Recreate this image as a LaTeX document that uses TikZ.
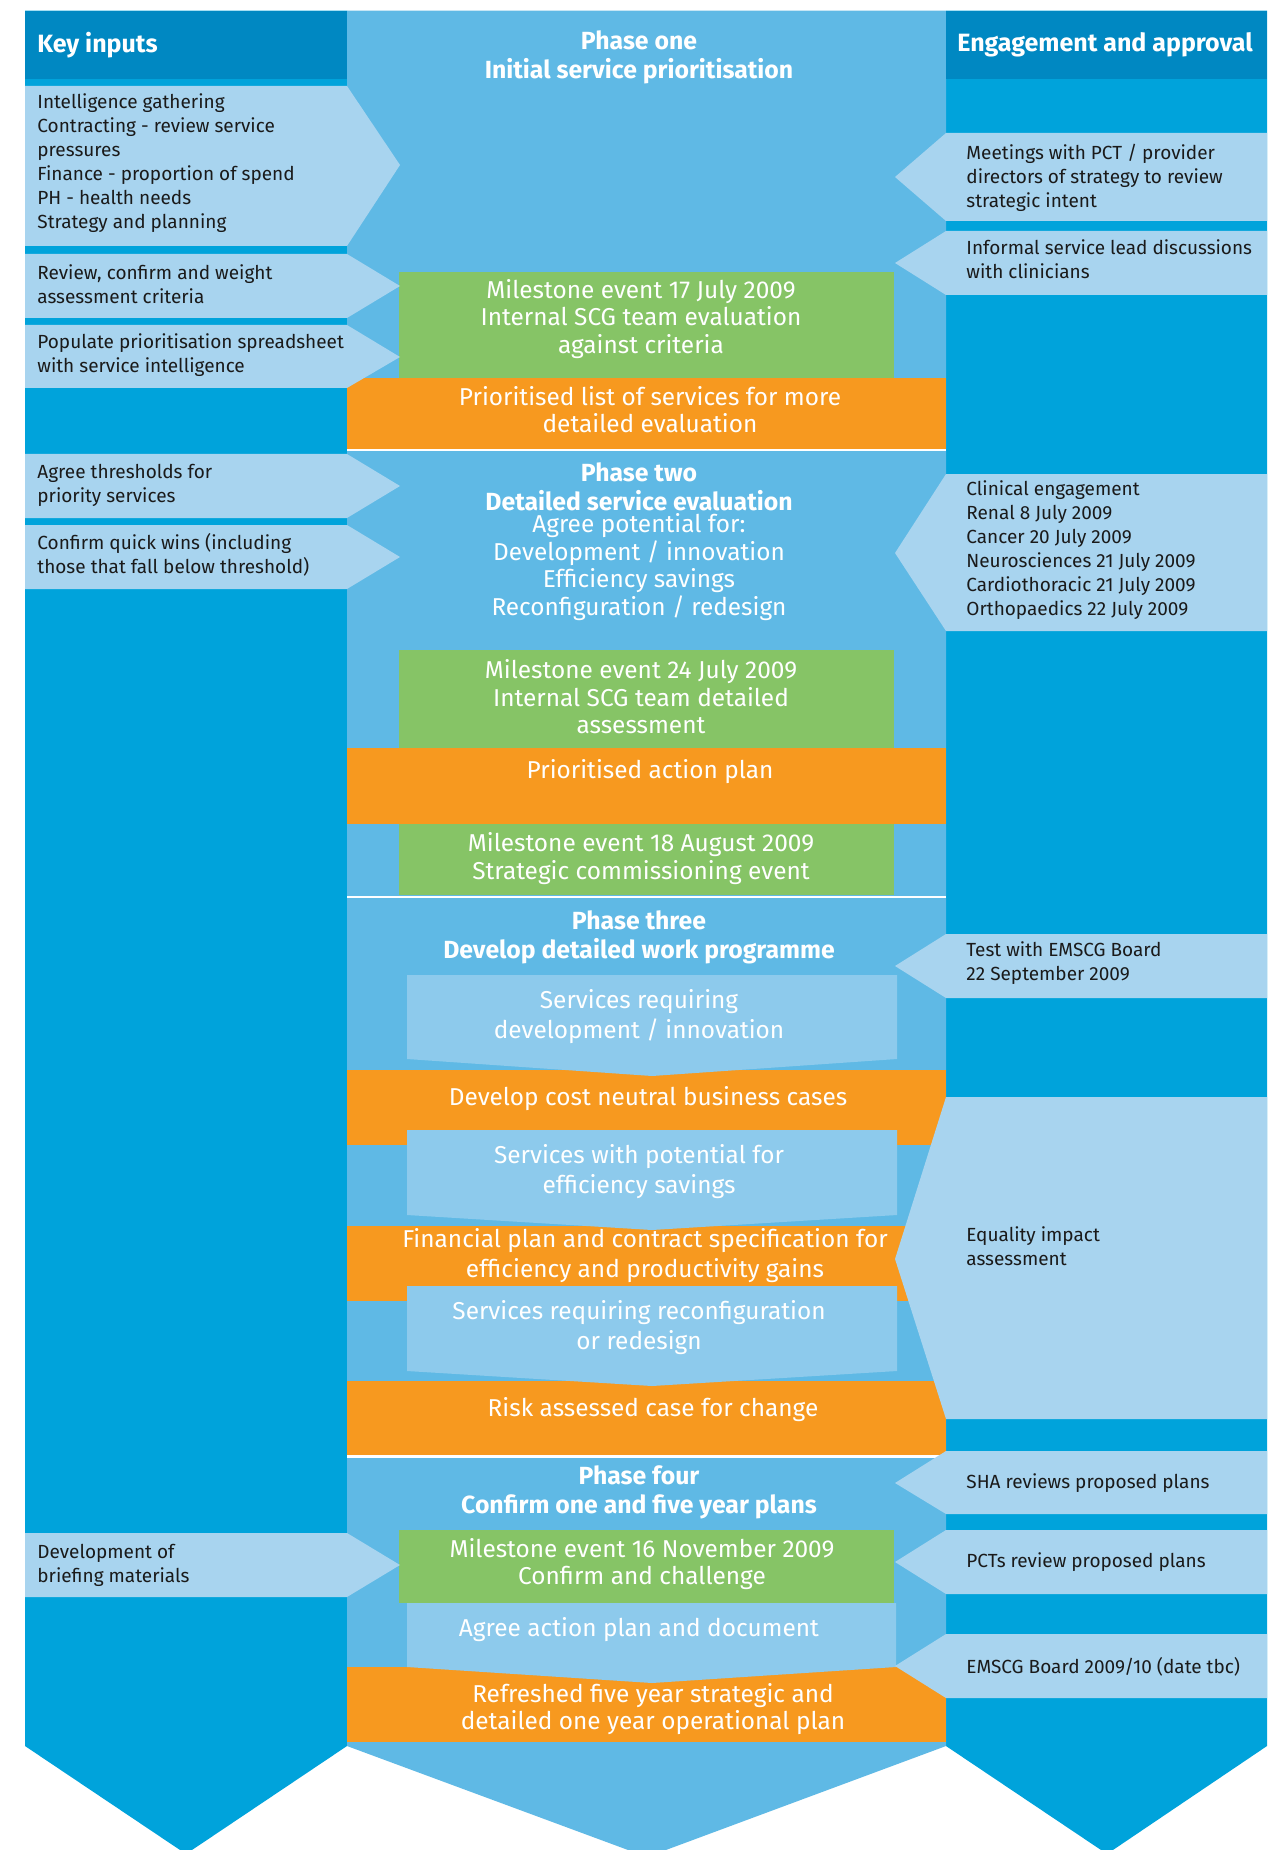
\documentclass[tikz,border=0pt]{standalone}
\usepackage{fontspec}
\setmainfont{Fira Sans}
\definecolor{hdblue}{HTML}{0088C2}
\definecolor{colblue}{HTML}{00A3DB}
\definecolor{midblue}{HTML}{5FB9E5}
\definecolor{paleblue}{HTML}{A8D4EF}
\definecolor{servblue}{HTML}{8DCAEC}
\definecolor{mgreen}{HTML}{86C466}
\definecolor{morange}{HTML}{F7991F}
\definecolor{txtdark}{HTML}{1A1A1A}
\newcommand\lpent[3]{\fill[paleblue] (25,#1) -- (347,#1) -- (400,#3) -- (347,#2) -- (25,#2) -- cycle;}
\newcommand\rpent[3]{\fill[paleblue] (1267,#1) -- (946,#1) -- (895,#3) -- (946,#2) -- (1267,#2) -- cycle;}
\newcommand\servbox[3]{\fill[servblue] (407,#1) -- (897,#1) -- (897,#2) -- (652,#3) -- (407,#2) -- cycle;}
\tikzset{
  lt/.style={font=\fontsize{9.5}{12}\selectfont, text=txtdark, align=left, anchor=west, inner sep=0pt},
  mt/.style={font=\fontsize{12.2}{13.8}\selectfont, text=white, align=center, inner sep=0pt},
  st/.style={font=\fontsize{12.2}{15}\selectfont, text=white, align=center, inner sep=0pt},
  ph/.style={font=\bfseries\fontsize{12.4}{14.5}\selectfont, text=white, align=center, inner sep=0pt},
  hd/.style={font=\bfseries\fontsize{12.5}{14}\selectfont, text=white, anchor=west, inner sep=0pt},
}
\begin{document}
\begin{tikzpicture}[x=0.5pt,y=-0.5pt]
\useasboundingbox (0,0) rectangle (1281,1850);
\clip (0,0) rectangle (1281,1850);
\fill[white] (0,0) rectangle (1281,1850);
% columns
\fill[colblue] (25,10.6) -- (347,10.6) -- (347,1746) -- (186,1854) -- (25,1746) -- cycle;
\fill[colblue] (946,10.6) -- (1267,10.6) -- (1267,1746) -- (1107,1854) -- (946,1746) -- cycle;
\fill[midblue] (347,10.6) -- (946,10.6) -- (946,1746) -- (647,1857) -- (347,1746) -- cycle;
% headers
\fill[hdblue] (25,10.6) rectangle (347,79);
\fill[hdblue] (946,10.6) rectangle (1267,79);
% phase one
\fill[mgreen] (399,272) rectangle (894,378);
\fill[morange] (347,378) rectangle (946,449);
% phase two
\fill[mgreen] (399,650) rectangle (894,748);
\fill[morange] (347,748) rectangle (946,824);
\fill[mgreen] (399,824) rectangle (894,895);
% phase three
\fill[morange] (347,1070) rectangle (946,1145);
\fill[morange] (347,1226) rectangle (946,1301);
\fill[morange] (347,1381) rectangle (946,1455);
\servbox{975}{1059}{1076}
\servbox{1130}{1215}{1230}
\servbox{1286}{1371}{1386}
% phase four
\fill[mgreen] (399,1530) rectangle (894,1603);
\fill[morange] (347,1667) rectangle (946,1742);
\fill[servblue] (407,1603) -- (896,1603) -- (896,1667) -- (652,1683) -- (407,1667) -- cycle;
% white dividers
\fill[white] (347,449) rectangle (946,451.5);
\fill[white] (347,895.5) rectangle (946,898);
\fill[white] (347,1455) rectangle (946,1457.5);
% input arrows
\lpent{86}{246}{165}
\lpent{254}{318}{286}
\lpent{325}{388}{357}
\lpent{454}{518}{486}
\lpent{525}{589}{557}
\lpent{1533}{1597}{1565}
\rpent{133}{221}{177}
\rpent{231}{295}{263}
\rpent{474}{631}{553}
\rpent{934}{998}{966}
\rpent{1097}{1419}{1259}
\rpent{1451}{1514}{1483}
\rpent{1530}{1594}{1562}
\rpent{1634}{1698}{1666}
% headers text
\node[hd] (hkey) at (37,45) {Key inputs};
\node[hd] (heng) at (957,45) {Engagement and approval};
% left texts
\node[lt] (l1) at (37,163) {Intelligence gathering\\Contracting - review service\\pressures\\Finance - proportion of spend\\PH - health needs\\Strategy and planning};
\node[lt] (l2) at (37,284) {Review, confirm and weight\\assessment criteria};
\node[lt] (l3) at (37,355) {Populate prioritisation spreadsheet\\with service intelligence};
\node[lt] (l4) at (37,485) {Agree thresholds for\\priority services};
\node[lt] (l5) at (37,555) {Confirm quick wins (including\\those that fall below threshold)};
\node[lt] (l6) at (37,1565.5) {Development of\\briefing materials};
% right texts
\node[lt] (r1) at (966,178) {Meetings with PCT / provider\\directors of strategy to review\\strategic intent};
\node[lt] (r2) at (966,259) {Informal service lead discussions\\with clinicians};
\node[lt] (r3) at (966,550) {Clinical engagement\\Renal 8 July 2009\\Cancer 20 July 2009\\Neurosciences 21 July 2009\\Cardiothoracic 21 July 2009\\Orthopaedics 22 July 2009};
\node[lt] (r4) at (966,963) {Test with EMSCG Board\\22 September 2009};
\node[lt] (r5) at (966,1246) {Equality impact\\assessment};
\node[lt] (r6) at (966,1483) {SHA reviews proposed plans};
\node[lt] (r7) at (966,1562) {PCTs review proposed plans};
\node[lt] (r8) at (966,1667) {EMSCG Board 2009/10 (date tbc)};
% middle texts
\node[ph] (p1) at (639,57.5) {Phase one\\Initial service prioritisation};
\node[mt] (g1) at (641,319) {Milestone event 17 July 2009\\Internal SCG team evaluation\\against criteria};
\node[mt] (o1) at (650,409.5) {Prioritised list of services for more\\detailed evaluation};
\node[ph] (p2) at (639,486.5) {Phase two\\Detailed service evaluation};
\node[mt] (p2d) at (639,567) {Agree potential for:\\Development / innovation\\Efficiency savings\\Reconfiguration / redesign};
\node[mt] (g2) at (641,697) {Milestone event 24 July 2009\\Internal SCG team detailed\\assessment};
\node[mt] (o2) at (650,772) {Prioritised action plan};
\node[mt] (g3) at (641,858.5) {Milestone event 18 August 2009\\Strategic commissioning event};
\node[ph] (p3) at (639,937) {Phase three\\Develop detailed work programme};
\node[st] (s1) at (639,1016.5) {Services requiring\\development / innovation};
\node[mt] (o3) at (648,1099) {Develop cost neutral business cases};
\node[st] (s2) at (639,1172) {Services with potential for\\efficiency savings};
\node[st] (o4) at (645,1255.5) {Financial plan and contract specification for\\efficiency and productivity gains};
\node[st] (s3) at (639,1327.5) {Services requiring reconfiguration\\or redesign};
\node[mt] (o5) at (653,1410) {Risk assessed case for change};
\node[ph] (p4) at (639,1492.5) {Phase four\\Confirm one and five year plans};
\node[mt] (g4) at (642,1564) {Milestone event 16 November 2009\\Confirm and challenge};
\node[mt] (ag) at (639,1630) {Agree action plan and document};
\node[mt] (o6) at (653,1709) {Refreshed five year strategic and\\detailed one year operational plan};
\end{tikzpicture}
\end{document}
